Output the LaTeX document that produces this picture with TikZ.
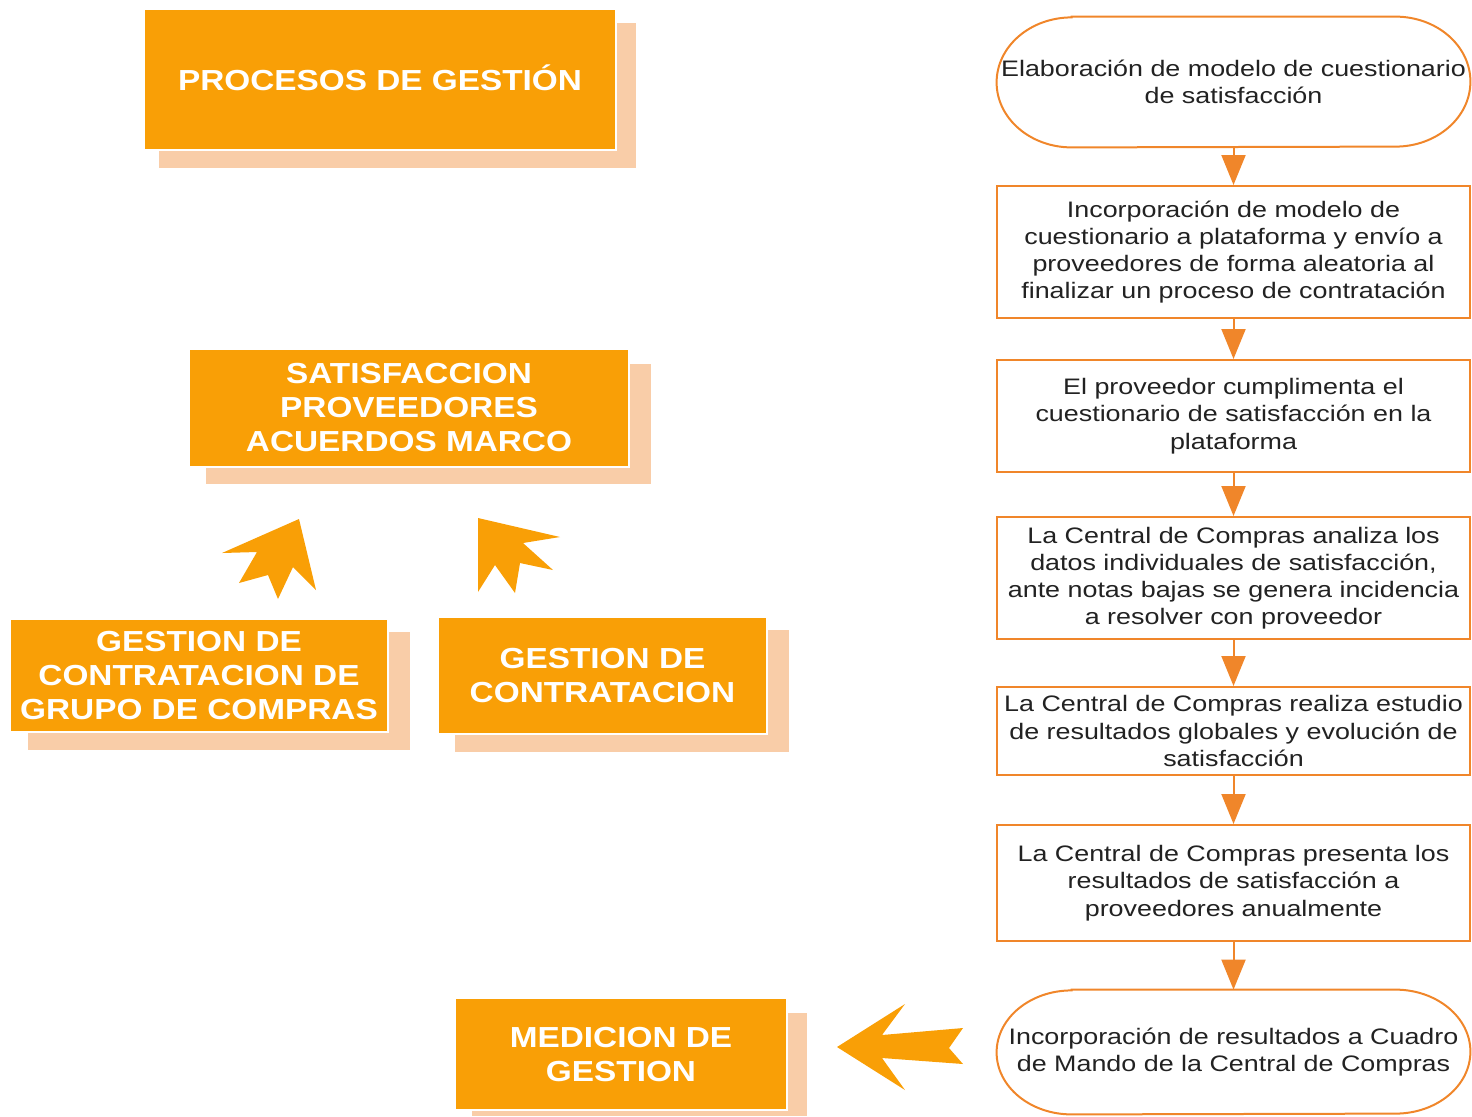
\documentclass[tikz,border=0pt]{standalone}
\usepackage{fontspec}
\setmainfont{Liberation Sans}
\newfontfamily\flowfont[FakeStretch=1.2]{Liberation Sans}
\newfontfamily\boxfont[FakeStretch=1.15]{Liberation Sans Bold}
\usetikzlibrary{arrows.meta,calc}
\definecolor{boxorange}{HTML}{F99F06}
\definecolor{shadoworange}{HTML}{F9CDA8}
\definecolor{lineorange}{HTML}{F0862A}
\definecolor{txtgray}{HTML}{222222}
\begin{document}
\begin{tikzpicture}[x=0.5pt,y=-0.5pt,
  mainbox/.style={fill=boxorange,draw=white,line width=0.8pt,text=white,
    font=\boxfont\fontsize{14.5}{17}\selectfont,align=center,inner sep=0pt},
  shadowfill/.style={fill=shadoworange},
  flowrect/.style={draw=lineorange,line width=1pt,fill=white,text=txtgray,
    font=\flowfont\fontsize{11.2}{13.6}\selectfont,align=center,inner sep=0pt,
    minimum width=236.5pt},
  flowterm/.style={draw=none,text=txtgray,
    font=\flowfont\fontsize{11.2}{13.6}\selectfont,align=center,inner sep=0pt,
    minimum width=236.5pt},
  termborder/.style={draw=lineorange,line width=1pt},
  flowarrow/.style={draw=lineorange,line width=1pt,-{Triangle[length=15pt,width=12pt]}},
  bigarrow/.style={fill=boxorange}
]
\useasboundingbox (0,0) rectangle (1472,1116);

% ---------- left boxes ----------
\fill[shadowfill] (159,23) rectangle (636,168);
\node[mainbox,minimum width=236pt,minimum height=70.5pt] (b1) at (380,79.5) {\raisebox{2pt}{PROCESOS DE GESTIÓN}};

\fill[shadowfill] (206,364) rectangle (651,484);
\node[mainbox,minimum width=220pt,minimum height=59pt] (b2) at (409,408) {SATISFACCION\\PROVEEDORES\\ACUERDOS MARCO};

\fill[shadowfill] (28,632) rectangle (410,750);
\node[mainbox,minimum width=189pt,minimum height=56.5pt] (b3) at (199,675.5) {GESTION DE\\CONTRATACION DE\\GRUPO DE COMPRAS};

\fill[shadowfill] (455,630) rectangle (789,752);
\node[mainbox,minimum width=164.5pt,minimum height=58.5pt] (b4) at (602.5,675.5) {GESTION DE\\CONTRATACION};

\fill[shadowfill] (472,1013) rectangle (807,1116);
\node[mainbox,minimum width=166pt,minimum height=56pt] (b5) at (621,1054) {MEDICION DE\\GESTION};

% ---------- big decorative arrows ----------
\fill[bigarrow] (299,519) -- (222,553) -- (257,552) -- (239,583) -- (268,575)
  -- (278,599) -- (293,567) -- (316,590) -- cycle;
\fill[bigarrow] (478,518) -- (560,537) -- (523,543) -- (553,570) -- (520,563)
  -- (515,593) -- (495,565) -- (478,592) -- cycle;
\fill[bigarrow] (837,1047) -- (905,1004) -- (882,1035) -- (963,1028) -- (949,1048)
  -- (963,1064) -- (882,1058) -- (905,1090) -- cycle;

% ---------- flowchart ----------
\node[flowterm,minimum height=65pt] (f1) at (1233.5,82)
  {Elaboración de modelo de cuestionario\\de satisfacción};
\draw[termborder] ([xshift=37.5pt]f1.north west) -- ([xshift=-37.5pt]f1.north east)
  arc[start angle=90,end angle=-90,x radius=37.5pt,y radius=32.5pt]
  -- ([xshift=37.5pt]f1.south west)
  arc[start angle=270,end angle=90,x radius=37.5pt,y radius=32.5pt] -- cycle;

\node[flowrect,minimum height=66pt] (f2) at (1233.5,252)
  {Incorporación de modelo de\\cuestionario a plataforma y envío a\\proveedores de forma aleatoria al\\finalizar un proceso de contratación};
\node[flowrect,minimum height=56pt] (f3) at (1233.5,416)
  {El proveedor cumplimenta el\\cuestionario de satisfacción en la\\plataforma};
\node[flowrect,minimum height=61pt] (f4) at (1233.5,578)
  {La Central de Compras analiza los\\datos individuales de satisfacción,\\ante notas bajas se genera incidencia\\a resolver con proveedor};
\node[flowrect,minimum height=44pt] (f5) at (1233.5,731)
  {La Central de Compras realiza estudio\\de resultados globales y evolución de\\satisfacción};
\node[flowrect,minimum height=58pt] (f6) at (1233.5,883)
  {La Central de Compras presenta los\\resultados de satisfacción a\\proveedores anualmente};

\node[flowterm,minimum height=62pt] (f7) at (1233.5,1052)
  {Incorporación de resultados a Cuadro\\de Mando de la Central de Compras};
\draw[termborder] ([xshift=37.5pt]f7.north west) -- ([xshift=-37.5pt]f7.north east)
  arc[start angle=90,end angle=-90,x radius=37.5pt,y radius=31pt]
  -- ([xshift=37.5pt]f7.south west)
  arc[start angle=270,end angle=90,x radius=37.5pt,y radius=31pt] -- cycle;

\draw[flowarrow] (f1.south) -- (f2.north);
\draw[flowarrow] (f2.south) -- (f3.north);
\draw[flowarrow] (f3.south) -- (f4.north);
\draw[flowarrow] (f4.south) -- (f5.north);
\draw[flowarrow] (f5.south) -- (f6.north);
\draw[flowarrow] (f6.south) -- (f7.north);
\end{tikzpicture}
\end{document}
